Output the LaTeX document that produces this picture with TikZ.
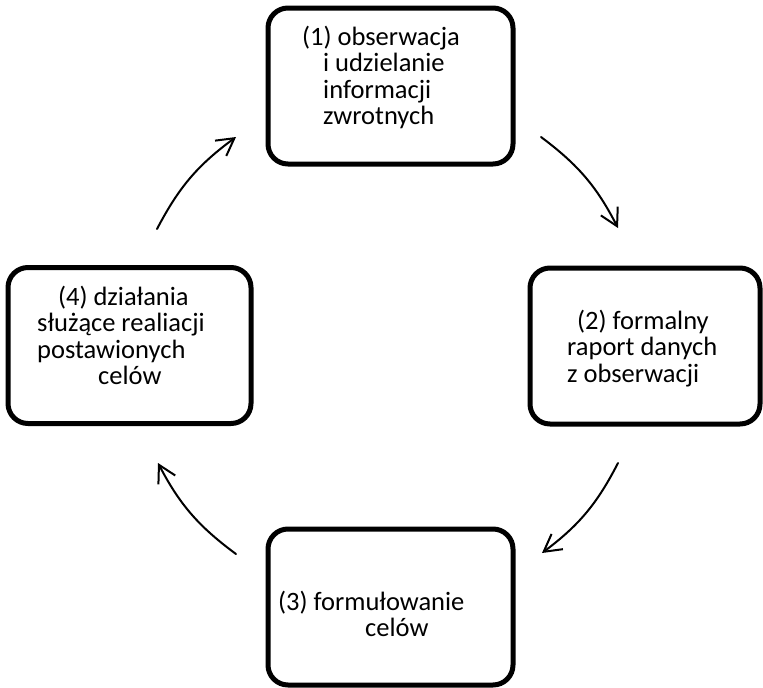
\documentclass[tikz,border=0pt]{standalone}
\usepackage{fontspec}
\setmainfont{Carlito}
\usetikzlibrary{arrows.meta}

\begin{document}
\begin{tikzpicture}[x=1pt,y=-1pt,
    box/.style={draw,line width=5pt,rounded corners=20pt,minimum height=156pt,inner sep=0pt},
    txt/.style={anchor=base west,inner sep=0pt,text width=260pt,align=left,
        font=\fontsize{26.5}{26.5}\selectfont,
        execute at begin node={\spaceskip=5.9pt\relax}},
    arr/.style={line width=2pt,line cap=round,
        -{Straight Barb[length=17pt,width=19pt,line width=2pt]}}]

\useasboundingbox (0,0) rectangle (763,688);

% Boxes
\node[box,minimum width=245pt] (b1) at (390.5,86) {};
\node[box,minimum width=230pt] (b2) at (645,346) {};
\node[box,minimum width=245pt] (b3) at (390.5,607) {};
\node[box,minimum width=243pt] (b4) at (129.5,345.5) {};

% Texts
\node[txt] (t1) at (302,45) {(1) obserwacja\\
    \hspace*{21pt}i udzielanie\\
    \hspace*{21pt}informacji\\
    \hspace*{21pt}zwrotnych};
\node[txt] (t2) at (567,329) {\hspace*{10pt}(2) formalny\\
    raport danych\\
    z obserwacji};
\node[txt] (t3) at (278,610) {(3) formułowanie\\
    \hspace*{87pt}celów};
\node[txt] (t4) at (37,305) {\hspace*{21pt}(4) działania\\
    służące realiacji\\
    postawionych\\
    \hspace*{61pt}celów};

% Arrow ends
\coordinate (a1s) at (541,137);
\coordinate (a1e) at (618,228);
\coordinate (a2s) at (618,463);
\coordinate (a2e) at (542,553);
\coordinate (a3s) at (236,554);
\coordinate (a3e) at (158,463);
\coordinate (a4s) at (157,229);
\coordinate (a4e) at (236,137);

% Arrows
\draw[arr] (a1s) to[bend left=13] (a1e);
\draw[arr] (a2s) to[bend left=13] (a2e);
\draw[arr] (a3s) to[bend left=13] (a3e);
\draw[arr] (a4s) to[bend left=13] (a4e);

\end{tikzpicture}
\end{document}
